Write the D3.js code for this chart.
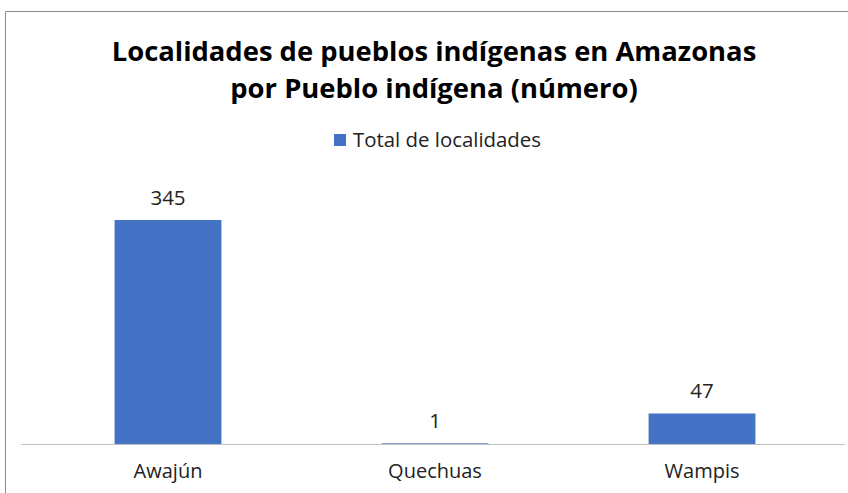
<!DOCTYPE html>
<html>
<head>
<meta charset="utf-8">
<script src="https://cdn.jsdelivr.net/npm/d3@7"></script>
<style>
  body { margin: 0; background: #fff; }
  text { font-family: "Open Sans", sans-serif; fill: #000; }
</style>
</head>
<body>
<div id="chart"></div>
<script>
// data
var categories = ["Awajún", "Quechuas", "Wampis"];
var values = [345, 1, 47];
var seriesName = "Total de localidades";
var titleLines = ["Localidades de pueblos indígenas en Amazonas", "por Pueblo indígena (número)"];

var width = 848, height = 493;

var svg = d3.select("#chart").append("svg")
    .attr("width", width)
    .attr("height", height);

// chart frame
svg.append("path")
    .attr("d", "M5.5," + height + "V11.5H" + width)
    .attr("fill", "none")
    .attr("stroke", "#8c8c8c")
    .attr("stroke-width", 1);

// title
svg.selectAll(".title")
    .data(titleLines)
  .enter().append("text")
    .attr("class", "title")
    .attr("x", 434)
    .attr("y", function(d, i) { return 61 + i * 37; })
    .attr("text-anchor", "middle")
    .style("font-size", "27.4px")
    .style("font-weight", "bold")
    .text(function(d) { return d; });

// legend
svg.append("rect")
    .attr("x", 334).attr("y", 134)
    .attr("width", 12).attr("height", 12)
    .attr("fill", "#4472c4");
svg.append("text")
    .attr("x", 353).attr("y", 147)
    .style("font-size", "20.4px")
    .style("fill", "#222")
    .text(seriesName);

// scales
var x = d3.scaleBand()
    .domain(categories)
    .range([34.5, 835.5])
    .paddingInner(0.6)
    .paddingOuter(0.3);

var y = d3.scaleLinear()
    .domain([0, 345])
    .range([444, 220]);

// bars
svg.selectAll(".bar")
    .data(values)
  .enter().append("rect")
    .attr("class", "bar")
    .attr("x", function(d, i) { return x(categories[i]); })
    .attr("width", x.bandwidth())
    .attr("y", function(d) { return y(d); })
    .attr("height", function(d) { return y(0) - y(d); })
    .attr("fill", "#4472c4");

// data labels
svg.selectAll(".label")
    .data(values)
  .enter().append("text")
    .attr("class", "label")
    .attr("x", function(d, i) { return x(categories[i]) + x.bandwidth() / 2; })
    .attr("y", function(d) { return y(d) - 15; })
    .attr("text-anchor", "middle")
    .style("font-size", "20.5px")
    .style("fill", "#222")
    .text(function(d) { return d; });

// x axis
var xAxis = svg.append("g")
    .attr("transform", "translate(0," + y(0) + ")")
    .call(d3.axisBottom(x).tickSize(0).tickPadding(20));
xAxis.select(".domain")
    .attr("d", "M21,0.5H845")
    .attr("stroke", "#bfbfbf");
xAxis.selectAll("text")
    .style("font-size", "20px")
    .style("fill", "#222")
    .style("font-family", "'Open Sans', sans-serif");
</script>
</body>
</html>
